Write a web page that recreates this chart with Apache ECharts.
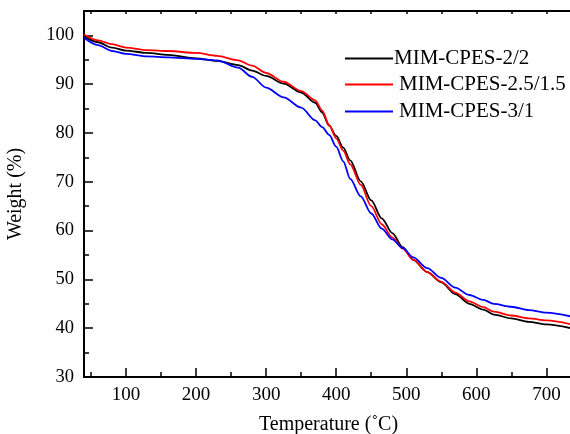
<!DOCTYPE html>
<html>
<head>
<meta charset="utf-8">
<script src="https://cdn.jsdelivr.net/npm/echarts@6/dist/echarts.min.js"></script>
<style>
  html, body { margin: 0; padding: 0; background: #fff; }
  #chart { width: 570px; height: 434px; }
</style>
</head>
<body>
<div id="chart"></div>
<script>
const temps = [40, 60, 80, 100, 130, 160, 200, 230, 260, 280, 300, 325, 350, 370, 380, 390, 400, 410, 420, 435, 450, 465, 480, 495, 510, 530, 550, 570, 590, 610, 625, 650, 675, 700, 738];

const cpes22 = [99.8, 98.6, 97.5, 96.9, 96.4, 96.0, 95.3, 94.8, 93.9, 92.8, 91.7, 90.1, 88.3, 86.2, 84.2, 81.5, 79.4, 77.0, 74.4, 70.1, 66.2, 62.5, 59.5, 56.6, 54.0, 51.5, 49.4, 47.0, 45.0, 43.8, 42.8, 42.0, 41.3, 40.8, 39.9];
const cpes2515 = [100.2, 99.0, 98.2, 97.5, 97.0, 96.8, 96.4, 95.8, 94.9, 93.8, 92.3, 90.5, 88.6, 86.7, 84.6, 81.6, 78.9, 76.4, 73.6, 69.4, 65.0, 61.3, 58.6, 56.3, 54.0, 51.5, 49.5, 47.3, 45.5, 44.3, 43.4, 42.6, 42.0, 41.6, 40.7];
const cpes31 = [99.5, 98.0, 96.8, 96.2, 95.7, 95.5, 95.2, 94.9, 93.4, 91.5, 89.3, 87.3, 85.2, 82.6, 81.2, 79.6, 77.2, 74.2, 70.6, 67.0, 63.5, 60.4, 58.2, 56.4, 54.5, 52.3, 50.3, 48.3, 46.8, 45.8, 45.0, 44.4, 43.7, 43.2, 42.3];

const seriesNames = ["MIM-CPES-2/2", "MIM-CPES-2.5/1.5", "MIM-CPES-3/1"];
const seriesColors = ["#000000", "#ff0000", "#0000ff"];

const font = '"Liberation Serif", "Times New Roman", serif';

const chart = echarts.init(document.getElementById("chart"));

const xBase = { type: "value", min: 40, max: 738, gridIndex: 0 };
const yBase = { type: "value", min: 30, max: 105, gridIndex: 0 };

chart.setOption({
  backgroundColor: "#fff",
  animation: false,
  grid: { left: 84, top: 11, width: 489, height: 366, outerBoundsMode: "none", containLabel: false },
  legend: seriesNames.map((name, i) => ({
    data: [name],
    left: 340,
    top: [43, 69, 96][i],
    icon: "rect",
    itemWidth: 48,
    itemHeight: 2,
    itemStyle: { color: seriesColors[i] },
    textStyle: { fontFamily: font, fontSize: 21, color: "#000", padding: [0, 0, 0, i === 0 ? -4 : 1] },
  })),
  xAxis: [
    Object.assign({}, xBase, {
      position: "bottom",
      splitNumber: 7,
      name: "Temperature (˚C)",
      nameLocation: "middle",
      nameGap: 38,
      nameTextStyle: { fontFamily: font, fontSize: 20, color: "#000" },
      axisLine: { show: true, lineStyle: { color: "#000", width: 2 } },
      axisTick: { inside: true, length: 9, lineStyle: { color: "#000", width: 1.5 } },
      axisLabel: {
        fontFamily: font, fontSize: 19, color: "#000", margin: 9,
        showMinLabel: false, showMaxLabel: false,
      },
      splitLine: { show: false },
    }),
    Object.assign({}, xBase, {
      position: "bottom",
      splitNumber: 14,
      axisLine: { show: false },
      axisTick: { inside: true, length: 5, lineStyle: { color: "#000", width: 1.5 } },
      axisLabel: { show: false },
      splitLine: { show: false },
    }),
    Object.assign({}, xBase, {
      position: "top",
      splitNumber: 14,
      axisLine: { show: true, lineStyle: { color: "#000", width: 2 } },
      axisTick: { inside: true, length: 3, lineStyle: { color: "#000", width: 1.5 } },
      axisLabel: { show: false },
      splitLine: { show: false },
    }),
  ],
  yAxis: [
    Object.assign({}, yBase, {
      position: "left",
      splitNumber: 7,
      name: "Weight (%)",
      nameLocation: "middle",
      nameGap: 58,
      nameTextStyle: { fontFamily: font, fontSize: 20, color: "#000" },
      axisLine: { show: true, lineStyle: { color: "#000", width: 2 } },
      axisTick: { inside: true, length: 9, lineStyle: { color: "#000", width: 1.5 } },
      axisLabel: {
        fontFamily: font, fontSize: 18.5, color: "#000", margin: 10,
        showMaxLabel: false,
      },
      splitLine: { show: false },
    }),
    Object.assign({}, yBase, {
      position: "left",
      splitNumber: 15,
      axisLine: { show: false },
      axisTick: { inside: true, length: 5, lineStyle: { color: "#000", width: 1.5 } },
      axisLabel: { show: false },
      splitLine: { show: false },
    }),
  ],
  series: [cpes22, cpes2515, cpes31].map((vals, i) => ({
    name: seriesNames[i],
    type: "line",
    xAxisIndex: 0,
    yAxisIndex: 0,
    symbol: "none",
    smooth: 0.3,
    smoothMonotone: "x",
    data: temps.map((t, k) => [t, vals[k]]),
    lineStyle: { color: seriesColors[i], width: 1.8 },
    itemStyle: { color: seriesColors[i] },
  })),
});
</script>
</body>
</html>
